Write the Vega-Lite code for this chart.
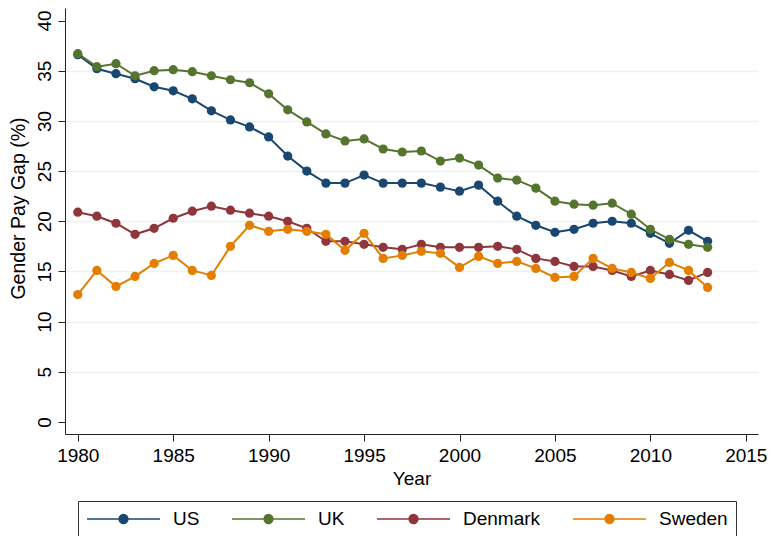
{
  "$schema": "https://vega.github.io/schema/vega-lite/v6.json",
  "width": 693,
  "height": 426,
  "autosize": {"type": "none"},
  "padding": {"left": 65, "top": 8, "right": 11, "bottom": 102},
  "background": "white",
  "config": {
    "view": {"stroke": null},
    "font": "Liberation Sans",
    "axis": {
      "domainColor": "#222",
      "tickColor": "#222",
      "domainWidth": 1,
      "tickWidth": 1,
      "labelFont": "Liberation Sans",
      "labelFontSize": 19,
      "labelColor": "#000",
      "titleFont": "Liberation Sans",
      "titleFontSize": 19,
      "titleFontWeight": "normal",
      "titleColor": "#000",
      "labelFlush": false,
      "labelOverlap": false,
      "labelBound": false
    }
  },
  "data": {
    "values": [
      {"year":1980,"country":"US","gap":36.6},{"year":1981,"country":"US","gap":35.2},{"year":1982,"country":"US","gap":34.7},{"year":1983,"country":"US","gap":34.2},{"year":1984,"country":"US","gap":33.4},{"year":1985,"country":"US","gap":33.0},{"year":1986,"country":"US","gap":32.2},{"year":1987,"country":"US","gap":31.0},{"year":1988,"country":"US","gap":30.1},{"year":1989,"country":"US","gap":29.4},{"year":1990,"country":"US","gap":28.4},{"year":1991,"country":"US","gap":26.5},{"year":1992,"country":"US","gap":25.0},{"year":1993,"country":"US","gap":23.8},{"year":1994,"country":"US","gap":23.8},{"year":1995,"country":"US","gap":24.6},{"year":1996,"country":"US","gap":23.8},{"year":1997,"country":"US","gap":23.8},{"year":1998,"country":"US","gap":23.8},{"year":1999,"country":"US","gap":23.4},{"year":2000,"country":"US","gap":23.0},{"year":2001,"country":"US","gap":23.6},{"year":2002,"country":"US","gap":22.0},{"year":2003,"country":"US","gap":20.5},{"year":2004,"country":"US","gap":19.6},{"year":2005,"country":"US","gap":18.9},{"year":2006,"country":"US","gap":19.2},{"year":2007,"country":"US","gap":19.8},{"year":2008,"country":"US","gap":20.0},{"year":2009,"country":"US","gap":19.8},{"year":2010,"country":"US","gap":18.8},{"year":2011,"country":"US","gap":17.8},{"year":2012,"country":"US","gap":19.1},{"year":2013,"country":"US","gap":18.0},
      {"year":1980,"country":"UK","gap":36.7},{"year":1981,"country":"UK","gap":35.4},{"year":1982,"country":"UK","gap":35.7},{"year":1983,"country":"UK","gap":34.5},{"year":1984,"country":"UK","gap":35.0},{"year":1985,"country":"UK","gap":35.1},{"year":1986,"country":"UK","gap":34.9},{"year":1987,"country":"UK","gap":34.5},{"year":1988,"country":"UK","gap":34.1},{"year":1989,"country":"UK","gap":33.8},{"year":1990,"country":"UK","gap":32.7},{"year":1991,"country":"UK","gap":31.1},{"year":1992,"country":"UK","gap":29.9},{"year":1993,"country":"UK","gap":28.7},{"year":1994,"country":"UK","gap":28.0},{"year":1995,"country":"UK","gap":28.2},{"year":1996,"country":"UK","gap":27.2},{"year":1997,"country":"UK","gap":26.9},{"year":1998,"country":"UK","gap":27.0},{"year":1999,"country":"UK","gap":26.0},{"year":2000,"country":"UK","gap":26.3},{"year":2001,"country":"UK","gap":25.6},{"year":2002,"country":"UK","gap":24.3},{"year":2003,"country":"UK","gap":24.1},{"year":2004,"country":"UK","gap":23.3},{"year":2005,"country":"UK","gap":22.0},{"year":2006,"country":"UK","gap":21.7},{"year":2007,"country":"UK","gap":21.6},{"year":2008,"country":"UK","gap":21.8},{"year":2009,"country":"UK","gap":20.7},{"year":2010,"country":"UK","gap":19.2},{"year":2011,"country":"UK","gap":18.2},{"year":2012,"country":"UK","gap":17.7},{"year":2013,"country":"UK","gap":17.4},
      {"year":1980,"country":"Denmark","gap":20.9},{"year":1981,"country":"Denmark","gap":20.5},{"year":1982,"country":"Denmark","gap":19.8},{"year":1983,"country":"Denmark","gap":18.7},{"year":1984,"country":"Denmark","gap":19.3},{"year":1985,"country":"Denmark","gap":20.3},{"year":1986,"country":"Denmark","gap":21.0},{"year":1987,"country":"Denmark","gap":21.5},{"year":1988,"country":"Denmark","gap":21.1},{"year":1989,"country":"Denmark","gap":20.8},{"year":1990,"country":"Denmark","gap":20.5},{"year":1991,"country":"Denmark","gap":20.0},{"year":1992,"country":"Denmark","gap":19.3},{"year":1993,"country":"Denmark","gap":18.0},{"year":1994,"country":"Denmark","gap":18.0},{"year":1995,"country":"Denmark","gap":17.7},{"year":1996,"country":"Denmark","gap":17.4},{"year":1997,"country":"Denmark","gap":17.2},{"year":1998,"country":"Denmark","gap":17.7},{"year":1999,"country":"Denmark","gap":17.4},{"year":2000,"country":"Denmark","gap":17.4},{"year":2001,"country":"Denmark","gap":17.4},{"year":2002,"country":"Denmark","gap":17.5},{"year":2003,"country":"Denmark","gap":17.2},{"year":2004,"country":"Denmark","gap":16.3},{"year":2005,"country":"Denmark","gap":16.0},{"year":2006,"country":"Denmark","gap":15.5},{"year":2007,"country":"Denmark","gap":15.5},{"year":2008,"country":"Denmark","gap":15.1},{"year":2009,"country":"Denmark","gap":14.5},{"year":2010,"country":"Denmark","gap":15.1},{"year":2011,"country":"Denmark","gap":14.7},{"year":2012,"country":"Denmark","gap":14.1},{"year":2013,"country":"Denmark","gap":14.9},
      {"year":1980,"country":"Sweden","gap":12.7},{"year":1981,"country":"Sweden","gap":15.1},{"year":1982,"country":"Sweden","gap":13.5},{"year":1983,"country":"Sweden","gap":14.5},{"year":1984,"country":"Sweden","gap":15.8},{"year":1985,"country":"Sweden","gap":16.6},{"year":1986,"country":"Sweden","gap":15.1},{"year":1987,"country":"Sweden","gap":14.6},{"year":1988,"country":"Sweden","gap":17.5},{"year":1989,"country":"Sweden","gap":19.6},{"year":1990,"country":"Sweden","gap":19.0},{"year":1991,"country":"Sweden","gap":19.2},{"year":1992,"country":"Sweden","gap":19.0},{"year":1993,"country":"Sweden","gap":18.7},{"year":1994,"country":"Sweden","gap":17.1},{"year":1995,"country":"Sweden","gap":18.8},{"year":1996,"country":"Sweden","gap":16.3},{"year":1997,"country":"Sweden","gap":16.6},{"year":1998,"country":"Sweden","gap":17.0},{"year":1999,"country":"Sweden","gap":16.8},{"year":2000,"country":"Sweden","gap":15.4},{"year":2001,"country":"Sweden","gap":16.5},{"year":2002,"country":"Sweden","gap":15.8},{"year":2003,"country":"Sweden","gap":16.0},{"year":2004,"country":"Sweden","gap":15.3},{"year":2005,"country":"Sweden","gap":14.4},{"year":2006,"country":"Sweden","gap":14.5},{"year":2007,"country":"Sweden","gap":16.3},{"year":2008,"country":"Sweden","gap":15.3},{"year":2009,"country":"Sweden","gap":14.9},{"year":2010,"country":"Sweden","gap":14.3},{"year":2011,"country":"Sweden","gap":15.9},{"year":2012,"country":"Sweden","gap":15.1},{"year":2013,"country":"Sweden","gap":13.4}
    ]
  },
  "mark": {
    "type": "line",
    "strokeWidth": 2,
    "point": {"filled": true, "size": 85, "opacity": 1}
  },
  "encoding": {
    "x": {
      "field": "year",
      "type": "quantitative",
      "scale": {"domain": [1979.33, 2015.64], "nice": false, "zero": false},
      "axis": {
        "values": [1980, 1985, 1990, 1995, 2000, 2005, 2010, 2015],
        "format": "d",
        "grid": false,
        "tickSize": 7,
        "labelBaseline": "alphabetic",
        "labelPadding": 20.7,
        "title": "Year",
        "titleBaseline": "alphabetic",
        "titleY": 50
      }
    },
    "y": {
      "field": "gap",
      "type": "quantitative",
      "scale": {"domain": [-1.2, 41.25], "nice": false, "zero": false},
      "axis": {
        "values": [0, 5, 10, 15, 20, 25, 30, 35, 40],
        "tickSize": 7,
        "labelAngle": -90,
        "labelAlign": "center",
        "labelBaseline": "alphabetic",
        "labelPadding": 8,
        "grid": true,
        "gridColor": "#eaf2f3",
        "gridWidth": 1.5,
        "gridOpacity": {"condition": {"test": "datum.value == 0 || datum.value == 40", "value": 0}, "value": 1},
        "title": "Gender Pay Gap (%)",
        "titleAngle": -90,
        "titleAlign": "center",
        "titleBaseline": "alphabetic",
        "titleX": -41,
        "titleY": 200,
        "titleFontSize": 19.5
      }
    },
    "color": {
      "field": "country",
      "type": "nominal",
      "scale": {
        "domain": ["US", "UK", "Denmark", "Sweden"],
        "range": ["#1a476f", "#55752f", "#90353b", "#e37e00"]
      },
      "legend": {
        "title": null,
        "orient": "none",
        "legendX": 13,
        "legendY": 493,
        "direction": "horizontal",
        "columns": 4,
        "symbolType": "M-1,0L1,0M-0.12,0A0.12,0.12 0 1,1 0.12,0A0.12,0.12 0 1,1 -0.12,0Z",
        "symbolSize": 5329,
        "clipHeight": 20,
        "symbolStrokeWidth": 1.5,
        "symbolOpacity": 1,
        "labelOffset": 12,
        "columnPadding": 31,
        "labelFont": "Liberation Sans",
        "labelFontSize": 19,
        "labelColor": "#000",
        "strokeColor": "#333",
        "fillColor": "white",
        "padding": 8,
        "encode": {
          "symbols": {
            "update": {
              "fill": {"scale": "color", "field": "value"},
              "stroke": {"scale": "color", "field": "value"},
              "opacity": {"value": 1}
            }
          }
        }
      }
    }
  }
}
